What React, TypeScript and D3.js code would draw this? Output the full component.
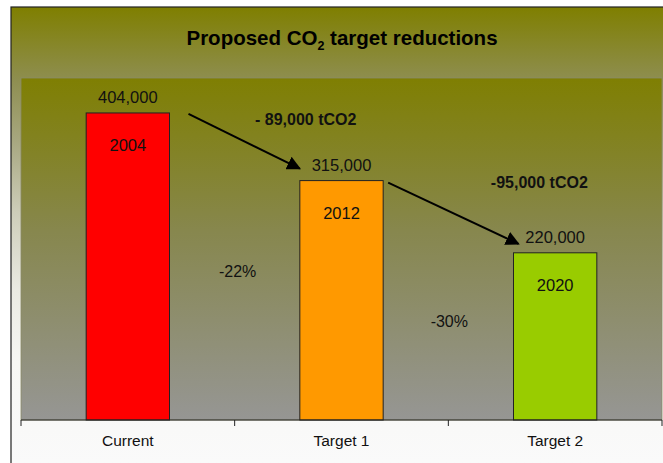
import React from "react";
import * as d3 from "d3";

const categories = ["Current", "Target 1", "Target 2"];
const values = [404000, 315000, 220000];
const years = ["2004", "2012", "2020"];
const barColors = ["#ff0000", "#ff9900", "#99cc00"];
const reductions = ["- 89,000 tCO2", "-95,000 tCO2"];
const percents = ["-22%", "-30%"];

const W = 663;
const H = 463;
const plot = { left: 21, right: 662, top: 78, bottom: 420 };
const font = "'Liberation Sans', Arial, sans-serif";

const App = () => {
    const x = d3
        .scaleBand()
        .domain(categories)
        .range([plot.left, plot.right])
        .paddingInner(0.61)
        .paddingOuter(0.305);

    const y = d3.scaleLinear().domain([0, 450000]).range([plot.bottom, plot.top]);

    const fmt = d3.format(",");
    const bw = x.bandwidth();
    const step = x.step();
    // boundaries between categories, for tick marks and percent labels
    const bounds = d3.range(categories.length + 1).map((i) => plot.left + i * step);

    // arrows between bars
    const arrows = [
        { x1: x(categories[0]) + bw + 19, y1: y(values[0]) + 1, x2: x(categories[1]), y2: y(values[1]) - 12 },
        { x1: x(categories[1]) + bw + 5, y1: y(values[1]) + 2, x2: x(categories[2]) + 5, y2: y(values[2]) - 9 },
    ];
    const redPos = [
        { x: bounds[1] + 71, y: y(values[0]) + 12 },
        { x: bounds[2] + 91, y: y(values[1]) + 7 },
    ];
    const pctPos = [
        { x: bounds[1] + 3, y: y(188000) },
        { x: bounds[2] + 1, y: y(122000) },
    ];

    return (
        <svg width={W} height={H} style={{ position: "absolute", left: 0, top: 0, fontFamily: font }}>
            <defs>
                <linearGradient id="areaGrad" x1="0" y1="7" x2="0" y2="463" gradientUnits="userSpaceOnUse">
                    <stop offset="0%" stopColor="#7f7f00" />
                    <stop offset="16%" stopColor="#8e8e50" />
                    <stop offset="30%" stopColor="#a9a982" />
                    <stop offset="45%" stopColor="#cdcdb9" />
                    <stop offset="62%" stopColor="#eaeae2" />
                    <stop offset="78%" stopColor="#f7f7f4" />
                    <stop offset="100%" stopColor="#fafafa" />
                </linearGradient>
                <linearGradient id="plotGrad" x1="0" y1="0" x2="0" y2="1">
                    <stop offset="0%" stopColor="#7f7f02" />
                    <stop offset="45%" stopColor="#87874e" />
                    <stop offset="100%" stopColor="#969694" />
                </linearGradient>
                <marker id="arrow" viewBox="0 0 10 10" refX="9" refY="5" markerWidth="7" markerHeight="7" orient="auto">
                    <path d="M0,0 L10,5 L0,10 z" fill="#000" />
                </marker>
            </defs>

            {/* chart area */}
            <rect x={11} y={7} width={W} height={H} fill="url(#areaGrad)" stroke="#222" strokeWidth={1.2} />
            <rect x={plot.left} y={plot.top} width={plot.right - plot.left} height={plot.bottom - plot.top} fill="url(#plotGrad)" stroke="#8a8a68" strokeWidth={0.8} />

            <text x={342} y={45} textAnchor="middle" fontSize={20.5} fontWeight="bold" fill="#000">
                Proposed CO<tspan fontSize={12.5} dy={5}>2</tspan>
                <tspan dy={-5}> target reductions</tspan>
            </text>

            {/* bars */}
            {categories.map((c, i) => (
                <g key={c}>
                    <rect x={x(c)} y={y(values[i])} width={bw} height={y(0) - y(values[i])} fill={barColors[i]} stroke="#222" strokeWidth={1} />
                    <text x={x(c) + bw / 2} y={y(values[i]) - 10} textAnchor="middle" fontSize={16.5} fill="#111">
                        {fmt(values[i])}
                    </text>
                    <text x={x(c) + bw / 2} y={y(values[i]) + 38} textAnchor="middle" fontSize={16.5} fill="#111">
                        {years[i]}
                    </text>
                </g>
            ))}

            {/* axis */}
            <line x1={plot.left} x2={plot.right} y1={plot.bottom} y2={plot.bottom} stroke="#222" strokeWidth={1} />
            {bounds.map((b, i) => (
                <line key={i} x1={b} x2={b} y1={plot.bottom} y2={plot.bottom + 6} stroke="#222" strokeWidth={1} />
            ))}
            {categories.map((c) => (
                <text key={c} x={x(c) + bw / 2} y={446} textAnchor="middle" fontSize={15.5} fill="#111">
                    {c}
                </text>
            ))}

            {/* arrows and annotations */}
            {arrows.map((a, i) => (
                <line key={i} x1={a.x1} y1={a.y1} x2={a.x2} y2={a.y2} stroke="#000" strokeWidth={2} markerEnd="url(#arrow)" />
            ))}
            {reductions.map((r, i) => (
                <text key={r} x={redPos[i].x} y={redPos[i].y} textAnchor="middle" fontSize={16} fontWeight="bold" fill="#111">
                    {r}
                </text>
            ))}
            {percents.map((p, i) => (
                <text key={p} x={pctPos[i].x} y={pctPos[i].y} textAnchor="middle" fontSize={16} fill="#111">
                    {p}
                </text>
            ))}
        </svg>
    );
};

export default App;
